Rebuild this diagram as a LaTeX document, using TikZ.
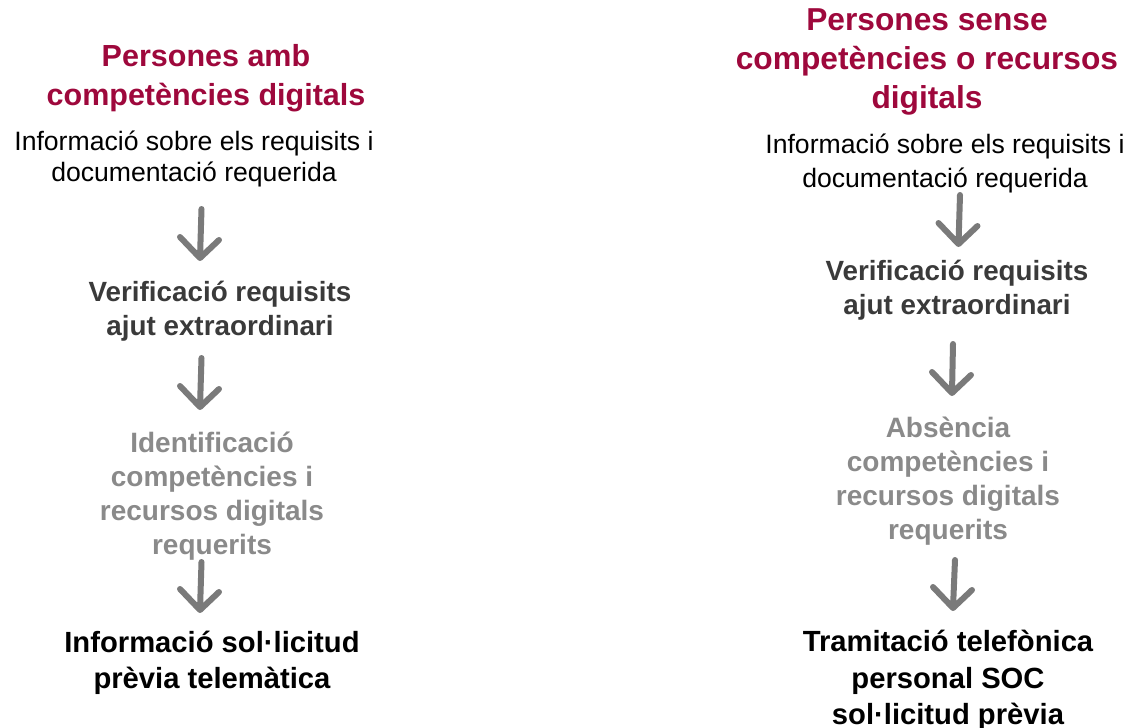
\documentclass[tikz,border=0pt]{standalone}
\usepackage{fontspec}
\setmainfont{Liberation Sans}
\definecolor{maroon}{RGB}{158,8,60}
\definecolor{dgray}{RGB}{58,58,58}
\definecolor{lgray}{RGB}{138,138,138}
\definecolor{agray}{RGB}{122,122,122}
\begin{document}
\begin{tikzpicture}[x=1pt,y=-1pt,
  title/.style={align=center,text=maroon,font=\fontsize{30.5}{38.5}\selectfont\bfseries,inner sep=0pt},
  titleb/.style={title,font=\fontsize{31.7}{39}\selectfont\bfseries},
  body/.style={align=center,text=black,font=\fontsize{26.6}{31.5}\selectfont,inner sep=0pt},
  bodyb/.style={body,font=\fontsize{26.6}{34}\selectfont},
  verif/.style={align=center,text=dgray,font=\fontsize{27.8}{34}\selectfont\bfseries,inner sep=0pt},
  ident/.style={align=center,text=lgray,font=\fontsize{28}{34}\selectfont\bfseries,inner sep=0pt},
  final/.style={align=center,text=black,font=\fontsize{29.2}{36.5}\selectfont\bfseries,inner sep=0pt},
  arr/.style={draw=agray,line width=6pt,line cap=round,line join=round}]
\useasboundingbox (0,0) rectangle (1128,728);
% left column
\node[title] (t1) at (206,78) {Persones amb\\competències digitals};
\node[body]  (b1) at (194,159) {Informació sobre els requisits i\\documentació requerida};
\node[verif] (v1) at (220,311) {Verificació requisits\\ajut extraordinari};
\node[ident] (i1) at (212,496) {Identificació\\competències i\\recursos digitals\\requerits};
\node[final] (f1) at (212,663) {Informació sol·licitud\\prèvia telemàtica};
% right column
\node[titleb] (t2) at (927,62) {Persones sense\\competències o recursos\\digitals};
\node[bodyb]  (b2) at (945,163) {Informació sobre els requisits i\\documentació requerida};
\node[verif] (v2) at (957,290.5) {Verificació requisits\\ajut extraordinari};
\node[ident] (a2) at (948,481) {Absència\\competències i\\recursos digitals\\requerits};
\node[final] (f2) at (948,680.5) {Tramitació telefònica\\personal SOC\\sol·licitud prèvia};
% arrow end points
\coordinate (l1s) at (201.5,209); \coordinate (l1e) at (200,258);
\coordinate (l2s) at (201.5,358); \coordinate (l2e) at (200,407);
\coordinate (l3s) at (201.5,562); \coordinate (l3e) at (200,610);
\coordinate (r1s) at (960,195); \coordinate (r1e) at (958.5,244);
\coordinate (r2s) at (953,344); \coordinate (r2e) at (952,393);
\coordinate (r3s) at (955,560); \coordinate (r3e) at (953,608);
\foreach \s/\e in {l1s/l1e,l2s/l2e,l3s/l3e,r1s/r1e,r2s/r2e,r3s/r3e}{
  \draw[arr] (\s) -- (\e) ++(-20,-21) -- (\e) -- ++(19,-18);
}
\end{tikzpicture}
\end{document}
